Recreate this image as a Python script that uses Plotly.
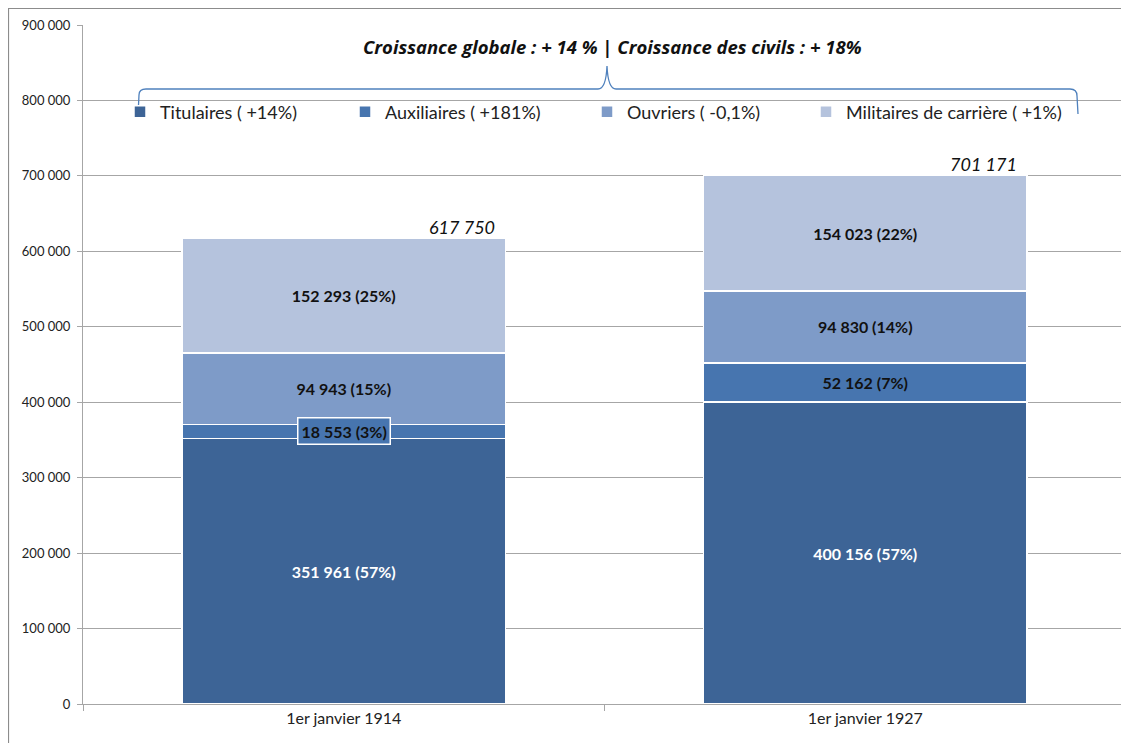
import plotly.graph_objects as go

categories = ["1er janvier 1914", "1er janvier 1927"]
series_names = ["Titulaires ( +14%)", "Auxiliaires ( +181%)", "Ouvriers ( -0,1%)",
                "Militaires de carrière ( +1%)"]
titulaires = [351961, 400156]
auxiliaires = [18553, 52162]
ouvriers = [94943, 94830]
militaires = [152293, 154023]
title_text = "Croissance globale : + 14 % | Croissance des civils : + 18%"
y_ticks = [0, 100000, 200000, 300000, 400000, 500000, 600000, 700000, 800000, 900000]

series_values = [titulaires, auxiliaires, ouvriers, militaires]
colors = ["#3D6496", "#4775AF", "#7E9BC8", "#B5C3DD"]
label_colors = ["#FFFFFF", "#111111", "#111111", "#111111"]

totals = [sum(s[i] for s in series_values) for i in range(len(categories))]


def fmt(v):
    return f"{v:,}".replace(",", " ")


FONT = "Lato, Calibri, 'Liberation Sans', sans-serif"

# page has an 8px body margin; geometry below is in page pixels
OFF = 8
W, H = 1129 - OFF, 743 - OFF
L, R, T, B = 83, 1126, 25, 704


def px(x):
    return (x - L) / (R - L)


def py(y):
    return (B - y) / (B - T)


legend_ids = ["legend", "legend2", "legend3", "legend4"]
legend_x = [120, 345, 587, 806]

fig = go.Figure()
for k, (name, vals) in enumerate(zip(series_names, series_values)):
    texts = []
    for i, v in enumerate(vals):
        pct = round(100 * v / totals[i])
        t = f"<b>{fmt(v)} ({pct}%)</b>"
        # the thin 1914 Auxiliaires slice gets a boxed annotation instead
        if k == 1 and i == 0:
            t = ""
        texts.append(t)
    fig.add_trace(go.Bar(
        x=categories, y=vals, name=name, legend=legend_ids[k],
        marker=dict(color=colors[k], line=dict(color="white", width=1.5)),
        text=texts, textposition="inside", insidetextanchor="middle",
        textangle=0, constraintext="none",
        insidetextfont=dict(family=FONT, size=16, color=label_colors[k]),
        hoverinfo="skip",
    ))

annotations = []
# boxed label for 1914 Auxiliaires
annotations.append(dict(
    x=0, y=titulaires[0] + auxiliaires[0] / 2, xref="x", yref="y",
    text=f"<b>{fmt(auxiliaires[0])} ({round(100 * auxiliaires[0] / totals[0])}%)</b>",
    showarrow=False, font=dict(family=FONT, size=16, color="#111111"),
    bgcolor=colors[1], bordercolor="white", borderwidth=1.5, borderpad=3,
))
# totals
for i, tot in enumerate(totals):
    annotations.append(dict(
        x=i + 0.31, y=tot, xref="x", yref="y", xanchor="right", yanchor="bottom",
        xshift=-8, yshift=-2,
        text=f"<i>{fmt(tot)}</i>", showarrow=False,
        font=dict(family=FONT, size=18, color="#111111"),
    ))
# title
annotations.append(dict(
    x=px(612), y=py(46), xref="paper", yref="paper", xanchor="center", yanchor="middle",
    text=f"<b><i>{title_text}</i></b>", showarrow=False,
    font=dict(family="'Open Sans', Lato, sans-serif", size=18.5, color="#111111"),
))

# curly brace
pts = [
    f"M {px(138)} {py(115)}",
    f"L {px(139)} {py(95)}",
    f"Q {px(139)} {py(89)} {px(146)} {py(89)}",
    f"L {px(598)} {py(89)}",
    f"Q {px(606)} {py(89)} {px(607)} {py(66)}",
    f"Q {px(608)} {py(89)} {px(616)} {py(89)}",
    f"L {px(1070)} {py(89)}",
    f"Q {px(1077)} {py(89)} {px(1077)} {py(96)}",
    f"L {px(1078)} {py(114)}",
]
shapes = [
    dict(type="path", xref="paper", yref="paper", path=" ".join(pts),
         line=dict(color="#4F81BD", width=1.3)),
    dict(type="rect", xref="paper", yref="paper",
         x0=px(8.5), x1=px(1160), y0=py(780), y1=py(8.5),
         line=dict(color="#8C8C8C", width=1.2), layer="below"),
]

legend_layouts = {}
for lid, lx in zip(legend_ids, legend_x):
    legend_layouts[lid] = dict(
        orientation="h", x=px(lx), y=py(112), xanchor="left", yanchor="middle",
        bgcolor="rgba(0,0,0,0)", font=dict(family=FONT, size=18, color="#222222"),
    )

fig.update_layout(
    width=W, height=H,
    margin=dict(l=L - OFF, r=(W + OFF) - R, t=T - OFF, b=(H + OFF) - B, pad=0),
    paper_bgcolor="white", plot_bgcolor="white",
    barmode="stack", bargap=0.38,
    separators=", ",
    font=dict(family=FONT, color="#222222"),
    uniformtext=dict(minsize=16, mode="show"),
    showlegend=True,
    annotations=annotations,
    shapes=shapes,
    xaxis=dict(
        showgrid=False, showline=True, linecolor="#A6A6A6", linewidth=1,
        ticks="outside", ticklen=6, tickcolor="#A6A6A6", tickson="boundaries",
        tickfont=dict(family=FONT, size=16, color="#222222"),
        range=[-0.5, 1.5], fixedrange=True,
    ),
    yaxis=dict(
        range=[0, 900000], tickvals=y_ticks, tickformat=",d",
        showgrid=True, gridcolor="#A6A6A6", gridwidth=1,
        showline=True, linecolor="#A6A6A6", linewidth=1,
        ticks="outside", ticklen=5, tickcolor="#A6A6A6", ticklabelstandoff=4,
        tickfont=dict(family=FONT, size=13, color="#222222"),
        zeroline=False, fixedrange=True,
    ),
    **legend_layouts,
)

fig.write_html("out.html")
